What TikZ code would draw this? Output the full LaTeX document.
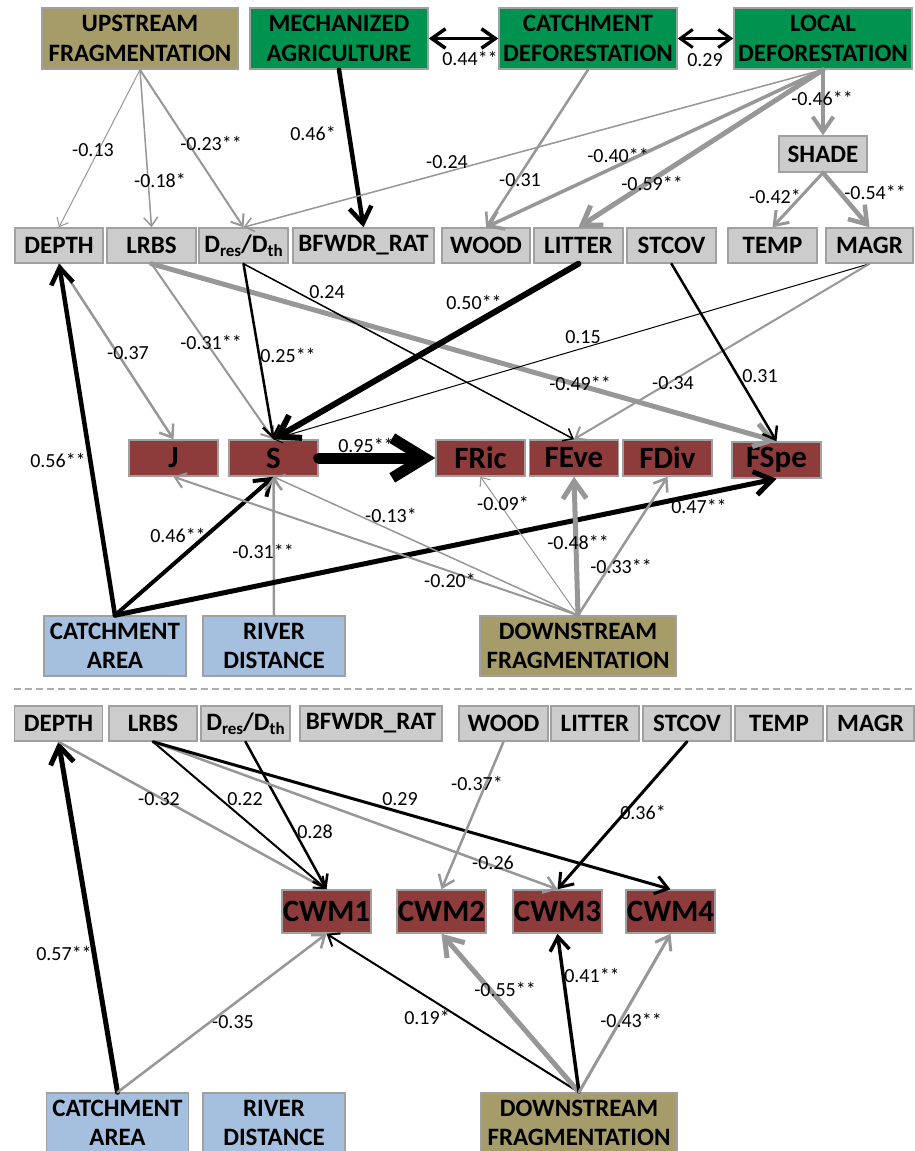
\documentclass[tikz,border=0pt]{standalone}
\usepackage{fontspec}
\setmainfont{Carlito}
\usetikzlibrary{arrows.meta}
\definecolor{olivebox}{HTML}{A59C69}
\definecolor{greenbox}{HTML}{00934F}
\definecolor{graybox}{HTML}{CCCCCC}
\definecolor{redbox}{HTML}{8D3B3B}
\definecolor{bluebox}{HTML}{A5C0DE}
\definecolor{boxline}{HTML}{A0A0A0}
\definecolor{lgray}{HTML}{979797}
\newcommand{\Dres}{D\raisebox{-0.3ex}{\fontsize{17}{17}\selectfont res}/D\raisebox{-0.3ex}{\fontsize{17}{17}\selectfont th}}
\begin{document}
\begin{tikzpicture}[x=1pt,y=-1pt,
  box/.style={draw=boxline, line width=1.5pt, inner sep=0pt, align=center,
    font=\bfseries\fontsize{25}{29.5}\selectfont},
  gbox/.style={box, fill=graybox, minimum height=35pt},
  obox/.style={box, fill=olivebox, minimum width=196pt, minimum height=61pt},
  gnbox/.style={box, fill=greenbox, minimum width=178pt, minimum height=61pt},
  bbox/.style={box, fill=bluebox, minimum width=142pt, minimum height=60pt},
  rbox/.style={box, fill=redbox, minimum width=89pt, minimum height=36pt, font=\bfseries\fontsize{31}{32}\selectfont},
  cbox/.style={box, fill=redbox, minimum width=89pt, minimum height=43pt, font=\bfseries\fontsize{31}{32}\selectfont},
  arr/.style={-{Straight Barb[length=5pt 2.5, width=10pt 2.7]}, line cap=round},
  darr/.style={{Straight Barb[length=5pt 2.5, width=10pt 2.7]}-{Straight Barb[length=5pt 2.5, width=10pt 2.7]}, line cap=round},
  ge/.style={arr, draw=lgray},
  be/.style={arr, draw=black},
  lab/.style={font=\fontsize{20}{20}\selectfont, inner sep=0pt}
]
\useasboundingbox[fill=white] (0,0) rectangle (914,1151);

% ---------- top section boxes ----------
\node[obox] (upf) at (140,38.5) {UPSTREAM\\FRAGMENTATION};
\node[gnbox] (mech) at (339,38.5) {MECHANIZED\\AGRICULTURE};
\node[gnbox] (catchd) at (588,38.5) {CATCHMENT\\DEFORESTATION};
\node[gnbox] (locd) at (823,38.5) {LOCAL\\DEFORESTATION};
\node[gbox, minimum width=88pt, minimum height=36pt] (shade) at (823,154) {SHADE};

\node[gbox, minimum width=88pt] (depth) at (59,245.5) {DEPTH};
\node[gbox, minimum width=89pt] (lrbs) at (151.5,245.5) {LRBS};
\node[gbox, minimum width=89pt] (dres) at (243.5,245.5) {\Dres};
\node[gbox, minimum width=141pt] (bfw) at (363.5,245.5) {BFWDR\_RAT};
\node[gbox, minimum width=88pt] (wood) at (486,245.5) {WOOD};
\node[gbox, minimum width=89pt] (litter) at (578.5,245.5) {LITTER};
\node[gbox, minimum width=89pt] (stcov) at (671.5,245.5) {STCOV};
\node[gbox, minimum width=89pt] (temp) at (772.5,245.5) {TEMP};
\node[gbox, minimum width=87pt] (magr) at (869.5,245.5) {MAGR};

\node[rbox] (J) at (173.5,458) {J};
\node[rbox] (S) at (273.5,458) {S};
\node[rbox] (fric) at (480.5,458) {FRic};
\node[rbox] (feve) at (574,458) {FEve};
\node[rbox] (fdiv) at (667.5,458) {FDiv};
\node[rbox] (fspe) at (776.5,460) {FSpe};

\node[bbox] (catcha) at (115,646) {CATCHMENT\\AREA};
\node[bbox] (river) at (274,646) {RIVER\\DISTANCE};
\node[obox, minimum height=60pt] (downf) at (578,646) {DOWNSTREAM\\FRAGMENTATION};

% separator
\draw[lgray!80, line width=2pt, dash pattern=on 7pt off 4pt] (14,689) -- (914,689);

% ---------- bottom section boxes ----------
\node[gbox, minimum width=88pt] (depth2) at (58.5,723.5) {DEPTH};
\node[gbox, minimum width=88pt] (lrbs2) at (153,723.5) {LRBS};
\node[gbox, minimum width=89pt] (dres2) at (245.5,723.5) {\Dres};
\node[gbox, minimum width=142pt] (bfw2) at (371,723.5) {BFWDR\_RAT};
\node[gbox, minimum width=89pt] (wood2) at (503.5,723.5) {WOOD};
\node[gbox, minimum width=88pt] (litter2) at (595,723.5) {LITTER};
\node[gbox, minimum width=88pt] (stcov2) at (687,723.5) {STCOV};
\node[gbox, minimum width=88pt] (temp2) at (779,723.5) {TEMP};
\node[gbox, minimum width=87pt] (magr2) at (870.5,723.5) {MAGR};

\node[cbox] (cwm1) at (326.5,911.5) {CWM1};
\node[cbox] (cwm2) at (441.5,911.5) {CWM2};
\node[cbox] (cwm3) at (557.5,911.5) {CWM3};
\node[cbox] (cwm4) at (670.5,911.5) {CWM4};

\node[bbox] (catcha2) at (117.5,1123) {CATCHMENT\\AREA};
\node[bbox] (river2) at (274,1123) {RIVER\\DISTANCE};
\node[obox, minimum height=60pt] (downf2) at (579,1123) {DOWNSTREAM\\FRAGMENTATION};

% ---------- top section edges ----------
\draw[darr, line width=3.5pt] (mech.east) -- (catchd.west) node[lab, at={(470,58)}] {0.44**};
\draw[darr, line width=3pt] (catchd.east) -- (locd.west) node[lab, at={(705,60)}] {0.29};

\draw[ge, line width=1pt] (upf.south) -- (depth.north) node[lab, at={(93,150)}] {-0.13};
\draw[ge, line width=1.5pt] (upf.south) -- (lrbs.north) node[lab, at={(160,180)}] {-0.18*};
\draw[ge, line width=2pt] (upf.south) -- (dres.north) node[lab, at={(211,143)}] {-0.23**};
\draw[be, line width=4.5pt] (mech.south) -- (bfw.north) node[lab, at={(313,133)}] {0.46*};
\draw[ge, line width=1.5pt] (locd.south) -- (dres.north) node[lab, at={(447,162)}] {-0.24};
\draw[ge, line width=2.5pt] (catchd.south) -- (wood.north) node[lab, at={(520,180)}] {-0.31};
\draw[ge, line width=3.5pt] (locd.south) -- (wood.north) node[lab, at={(618,155)}] {-0.40**};
\draw[ge, line width=5pt] (locd.south) -- (litter.north) node[lab, at={(652,183)}] {-0.59**};
\draw[ge, line width=4pt] (locd.south) -- (shade.north) node[lab, at={(822,98)}] {-0.46**};
\draw[ge, line width=3pt] (shade.south) -- (temp.north) node[lab, at={(775,196)}] {-0.42*};
\draw[ge, line width=4.5pt] (shade.south) -- (magr.north) node[lab, at={(875,192)}] {-0.54**};

\draw[ge, line width=2.5pt] (depth.south) -- (J.north) node[lab, at={(128,353)}] {-0.37};
\draw[be, line width=4.5pt] (catcha.north) -- (depth.south) node[lab, at={(58,460)}] {0.56**};
\draw[ge, line width=2pt] (lrbs.south) -- (S.north) node[lab, at={(211,342)}] {-0.31**};
\draw[ge, line width=5pt] (lrbs.south) -- (fspe.north) node[lab, at={(580,383)}] {-0.49**};
\draw[be, line width=2.5pt] (dres.south) -- (S.north) node[lab, at={(288,355)}] {0.25**};
\draw[be, line width=1.5pt] (dres.south) -- (feve.north) node[lab, at={(327,292)}] {0.24};
\draw[be, line width=6pt] (litter.south) -- (S.north) node[lab, at={(474,302)}] {0.50**};
\draw[be, line width=1pt] (magr.south) -- (S.north) node[lab, at={(583,337)}] {0.15};
\draw[ge, line width=2pt] (magr.south) -- (feve.north) node[lab, at={(673,383)}] {-0.34};
\draw[be, line width=2.5pt] (stcov.south) -- (fspe.north) node[lab, at={(760,376)}] {0.31};
\draw[be, line width=11pt] (S.east) -- (fric.west) node[lab, at={(366,445)}] {0.95**};

\draw[be, line width=4pt] (catcha.north) -- (S.south) node[lab, at={(178,535)}] {0.46**};
\draw[ge, line width=2.5pt] (river.north) -- (S.south) node[lab, at={(263,551)}] {-0.31**};
\draw[be, line width=5pt] (catcha.north) -- (fspe.south) node[lab, at={(699,506)}] {0.47**};
\draw[ge, line width=2pt] (downf.north) -- (J.south) node[lab, at={(450,580)}] {-0.20*};
\draw[ge, line width=1.5pt] (downf.north) -- (S.south) node[lab, at={(391,515)}] {-0.13*};
\draw[ge, line width=1pt] (downf.north) -- (fric.south) node[lab, at={(503,503)}] {-0.09*};
\draw[ge, line width=5pt] (downf.north) -- (feve.south) node[lab, at={(578,542)}] {-0.48**};
\draw[ge, line width=2.5pt] (downf.north) -- (fdiv.south) node[lab, at={(621,566)}] {-0.33**};

% ---------- bottom section edges ----------
\draw[be, line width=5pt] (catcha2.north) -- (depth2.south) node[lab, at={(64,953)}] {0.57**};
\draw[ge, line width=2.5pt] (depth2.south) -- (cwm1.north) node[lab, at={(159,799)}] {-0.32};
\draw[be, line width=2pt] (lrbs2.south) -- (cwm1.north) node[lab, at={(245,799)}] {0.22};
\draw[be, line width=2.5pt] (dres2.south) -- (cwm1.north) node[lab, at={(315,832)}] {0.28};
\draw[ge, line width=2.5pt] (lrbs2.south) -- (cwm3.north) node[lab, at={(493,863)}] {-0.26};
\draw[be, line width=3pt] (lrbs2.south) -- (cwm4.north) node[lab, at={(400,799)}] {0.29};
\draw[ge, line width=2.5pt] (wood2.south) -- (cwm2.north) node[lab, at={(477,783)}] {-0.37*};
\draw[be, line width=3pt] (stcov2.south) -- (cwm3.north) node[lab, at={(643,812)}] {0.36*};
\draw[ge, line width=2.5pt] (catcha2.north) -- (cwm1.south) node[lab, at={(233,1022)}] {-0.35};
\draw[be, line width=2pt] (downf2.north) -- (cwm1.south) node[lab, at={(427,1017)}] {0.19*};
\draw[ge, line width=5pt] (downf2.north) -- (cwm2.south) node[lab, at={(505,989)}] {-0.55**};
\draw[be, line width=3.5pt] (downf2.north) -- (cwm3.south) node[lab, at={(592,975)}] {0.41**};
\draw[ge, line width=3pt] (downf2.north) -- (cwm4.south) node[lab, at={(631,1020)}] {-0.43**};
\end{tikzpicture}
\end{document}
